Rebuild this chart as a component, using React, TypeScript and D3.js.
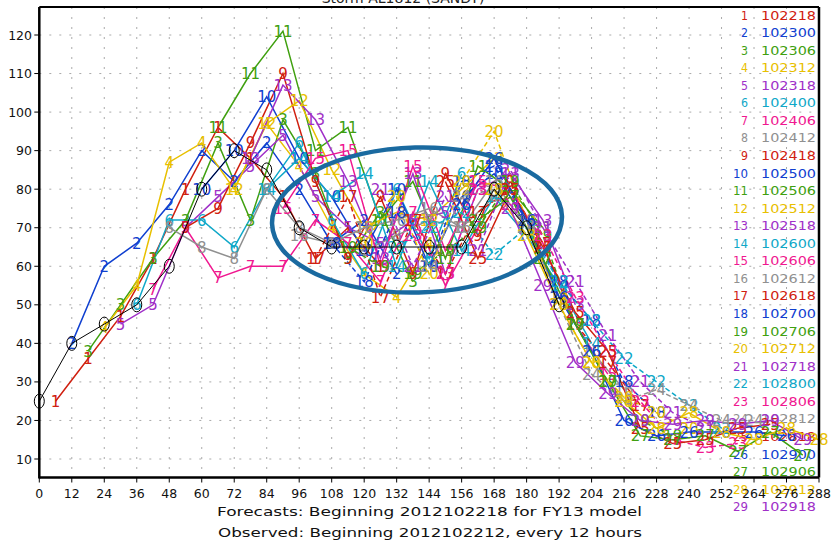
import React from "react";
import * as d3 from "d3";

// ---------------- DATA ----------------
const xTicks = [0, 12, 24, 36, 48, 60, 72, 84, 96, 108, 120, 132, 144, 156, 168, 180, 192, 204, 216, 228, 240, 252, 264, 276, 288];
const yTicks = [10, 20, 30, 40, 50, 60, 70, 80, 90, 100, 110, 120];

const obsHours = [0, 12, 24, 36, 48, 60, 72, 84, 96, 108, 120, 132, 144, 156, 168, 180, 192];
const obsValues = [25, 40, 45, 50, 60, 80, 90, 85, 70, 65, 65, 65, 65, 65, 80, 70, 50];

const forecastIds = ["1", "2", "3", "4", "5", "6", "7", "8", "9", "10", "11", "12", "13", "14", "15", "16", "17", "18", "19", "20", "21", "22", "23", "24", "25", "26", "27", "28", "29"];
const forecastDates = ["102218", "102300", "102306", "102312", "102318", "102400", "102406", "102412", "102418", "102500", "102506", "102512", "102518", "102600", "102606", "102612", "102618", "102700", "102706", "102712", "102718", "102800", "102806", "102812", "102818", "102900", "102906", "102912", "102918"];
const forecastStartHours = [6, 12, 18, 24, 30, 36, 42, 48, 54, 60, 66, 72, 78, 84, 90, 96, 102, 108, 114, 120, 126, 132, 138, 144, 150, 156, 162, 168, 174];
const stepHours = 12;

// intensities (kt) every 12 h from each forecast's start
const F01 = [25, 36, 47, 62, 80, 96, 88, 78, 62, 70, 60];
const F02 = [40, 60, 66, 76, 90, 82, 92, 80, 66, 72, 58];
const F03 = [38, 50, 62, 72, 92, 72, 98, 84, 62, 74, 56];
const F04 = [44, 55, 87, 92, 80, 97, 86, 70, 58, 52, 66];
const F05 = [45, 50, 70, 78, 86, 94, 78, 70, 66, 72, 74];
const F06 = [50, 72, 72, 65, 80, 92, 72, 58, 80, 62, 84];
const F07 = [54, 70, 57, 60, 60, 72, 66, 56, 74, 55, 70];
const F08 = [70, 65, 62, 80, 70, 66, 64, 68, 72, 70, 78];
const F09 = [70, 75, 92, 110, 82, 62, 78, 58, 84, 68, 82];
const F10 = [80, 90, 104, 88, 78, 64, 80, 60, 78, 84, 72];
const F11 = [96, 110, 121, 90, 96, 72, 82, 62, 86, 80, 70];
const F12 = [80, 97, 103, 85, 70, 74, 72, 80, 88, 72, 52];
const F13 = [88, 107, 98, 82, 62, 84, 58, 80, 84, 72, 50];
const F14 = [80, 88, 78, 84, 60, 82, 64, 78, 68, 55, 40];
const F15 = [75, 88, 90, 60, 86, 64, 82, 80, 66, 45, 32];
const F16 = [68, 66, 70, 72, 75, 70, 82, 70, 52, 38, 28];
const F17 = [62, 78, 52, 72, 58, 74, 80, 66, 45, 35, 24];
const F18 = [66, 56, 74, 60, 82, 86, 72, 56, 46, 30, 22];
const F19 = [65, 60, 58, 64, 70, 82, 68, 45, 30, 20, 16];
const F20 = [66, 78, 58, 82, 95, 72, 50, 35, 26, 22, 18];
const F21 = [80, 60, 78, 64, 85, 70, 56, 42, 30, 22, 18];
const F22 = [65, 70, 74, 63, 70, 56, 46, 36, 30, 24, 18];
const F23 = [68, 58, 80, 76, 68, 52, 38, 25, 15, 13, 14];
const F24 = [60, 78, 80, 70, 50, 32, 25, 28, 24, 20, 20];
const F25 = [82, 62, 80, 65, 48, 38, 18, 14, 15, 18, 19];
const F26 = [76, 88, 72, 52, 38, 20, 16, 17, 17, 17, 16];
const F27 = [72, 78, 62, 45, 30, 16, 15, 16, 12, 17, 11];
const F28 = [80, 68, 50, 35, 25, 18, 22, 17, 15, 18, 15];
const F29 = [75, 55, 35, 27, 20, 19, 20, 19, 20, 15];

const forecastValues = [F01, F02, F03, F04, F05, F06, F07, F08, F09, F10, F11, F12, F13, F14, F15, F16, F17, F18, F19, F20, F21, F22, F23, F24, F25, F26, F27, F28, F29];

const palette = ["#d02010", "#1040d0", "#40a010", "#e8c000", "#a030c8", "#10a8c8", "#f01890", "#909090"];
const dashedIds = ["17", "18", "19", "20", "21", "22", "23", "24"];

const titleText = "Storm AL1812 (SANDY)";
const footer1 = "Forecasts: Beginning 2012102218 for FY13 model";
const footer2 = "Observed: Beginning 2012102212, every 12 hours";

// ---------------- LAYOUT ----------------
const W = 832;
const H = 540;
const plotLeft = 39.3;
const plotRight = 819;
const plotTop = 7;
const plotBottom = 477.5;

export default function App() {
  const x = d3.scaleLinear().domain([0, 288]).range([plotLeft, plotRight]);
  const y = d3.scaleLinear().domain([10, 120]).range([459, 35]);
  const line = d3
    .line<[number, number]>()
    .x((d) => x(d[0]))
    .y((d) => y(d[1]));

  const font = "DejaVu Sans, Arial, sans-serif";

  const series = forecastValues.map((vals, i) => {
    const pts: [number, number][] = vals.map((v, j) => [forecastStartHours[i] + j * stepHours, v]);
    return {
      id: forecastIds[i],
      color: palette[i % palette.length],
      dashed: dashedIds.includes(forecastIds[i]),
      pts: pts.filter((p) => p[0] <= 288),
    };
  });

  const obsPts: [number, number][] = obsHours.map((h, i) => [h, obsValues[i]]);

  const legendY0 = 15;
  const legendStep = 17.56;

  return (
    <svg width={W} height={H} style={{ position: "absolute", left: 0, top: 0, background: "#fff" }}>
      <rect x={0} y={0} width={W} height={H} fill="#fff" />
      {/* title (cut off at the top) */}
      <text x={403} y={3} textAnchor="middle" fontFamily={font} fontSize={14} fill="#222">
        {titleText}
      </text>
      {/* grid */}
      {xTicks.slice(1, -1).map((t) => (
        <line key={"gx" + t} x1={x(t)} x2={x(t)} y1={plotTop} y2={plotBottom} stroke="#aaa" strokeWidth={1} strokeDasharray="2,8" />
      ))}
      {yTicks.map((t) => (
        <line key={"gy" + t} x1={plotLeft} x2={plotRight} y1={y(t)} y2={y(t)} stroke="#aaa" strokeWidth={1} strokeDasharray="2,8" />
      ))}
      {/* legend */}
      {forecastIds.map((id, i) => {
        const yy = legendY0 + i * legendStep + 4.5;
        const c = palette[i % palette.length];
        return (
          <g key={"lg" + id} fontFamily={font} fontSize={12.5} fill={c}>
            <text x={748} y={yy} textAnchor="end" textLength={id.length === 1 ? 7 : 15} lengthAdjust="spacingAndGlyphs">
              {id}
            </text>
            <text x={761} y={yy} textLength={55} lengthAdjust="spacingAndGlyphs">
              {forecastDates[i]}
            </text>
          </g>
        );
      })}
      {/* forecast lines */}
      <g clipPath="url(#plotclip)">
        {series.map((s) => (
          <path
            key={"ln" + s.id}
            d={line(s.pts) || ""}
            fill="none"
            stroke={s.color}
            strokeWidth={1.5}
            strokeDasharray={s.dashed ? "5,3" : undefined}
          />
        ))}
        {series.map((s) =>
          s.pts.map((p, j) => (
            <text
              key={"lb" + s.id + "_" + j}
              x={x(p[0])}
              y={y(p[1]) + 5.5}
              textAnchor="middle"
              fontFamily={font}
              fontSize={15}
              fill={s.color}
            >
              {s.id}
            </text>
          ))
        )}
        {/* observed */}
        <path d={line(obsPts) || ""} fill="none" stroke="#000" strokeWidth={1} />
        {obsPts.map((p, i) => (
          <ellipse key={"ob" + i} cx={x(p[0])} cy={y(p[1])} rx={5} ry={7} fill="none" stroke="#000" strokeWidth={1} />
        ))}
      </g>
      <defs>
        <clipPath id="plotclip">
          <rect x={plotLeft - 8} y={plotTop} width={plotRight - plotLeft + 20} height={plotBottom - plotTop} />
        </clipPath>
      </defs>
      {/* frame */}
      <line x1={plotLeft} x2={plotRight} y1={plotTop} y2={plotTop} stroke="#000" strokeWidth={2} />
      <line x1={plotRight} x2={plotRight} y1={plotTop} y2={plotBottom} stroke="#000" strokeWidth={2.5} />
      <line x1={plotLeft} x2={plotLeft} y1={plotTop} y2={plotBottom + 1} stroke="#000" strokeWidth={2.5} />
      <line x1={plotLeft} x2={plotRight} y1={plotBottom} y2={plotBottom} stroke="#000" strokeWidth={2.5} />
      {/* y axis */}
      {yTicks.map((t) => (
        <g key={"yt" + t}>
          <line x1={plotLeft - 5} x2={plotLeft} y1={y(t)} y2={y(t)} stroke="#000" strokeWidth={1} />
          <text x={32} y={y(t) + 4.5} textAnchor="end" fontFamily={font} fontSize={12.5} fill="#111">
            {t}
          </text>
        </g>
      ))}
      {/* x axis */}
      {xTicks.map((t) => (
        <g key={"xt" + t}>
          <line x1={x(t)} x2={x(t)} y1={plotBottom} y2={plotBottom + 5} stroke="#000" strokeWidth={1} />
          <text x={x(t)} y={498} textAnchor="middle" fontFamily={font} fontSize={12.5} fill="#111">
            {t}
          </text>
        </g>
      ))}
      {/* annotation ellipse */}
      <ellipse cx={417} cy={220} rx={145} ry={72.5} fill="none" stroke="#1a6aa0" strokeWidth={4.5} transform="rotate(-1.5 417 220)" />
      {/* footers */}
      <text x={217} y={515.5} fontFamily={font} fontSize={13} fill="#111" textLength={425} lengthAdjust="spacingAndGlyphs">
        {footer1}
      </text>
      <text x={218} y={536.5} fontFamily={font} fontSize={13} fill="#111" textLength={424} lengthAdjust="spacingAndGlyphs">
        {footer2}
      </text>
    </svg>
  );
}
